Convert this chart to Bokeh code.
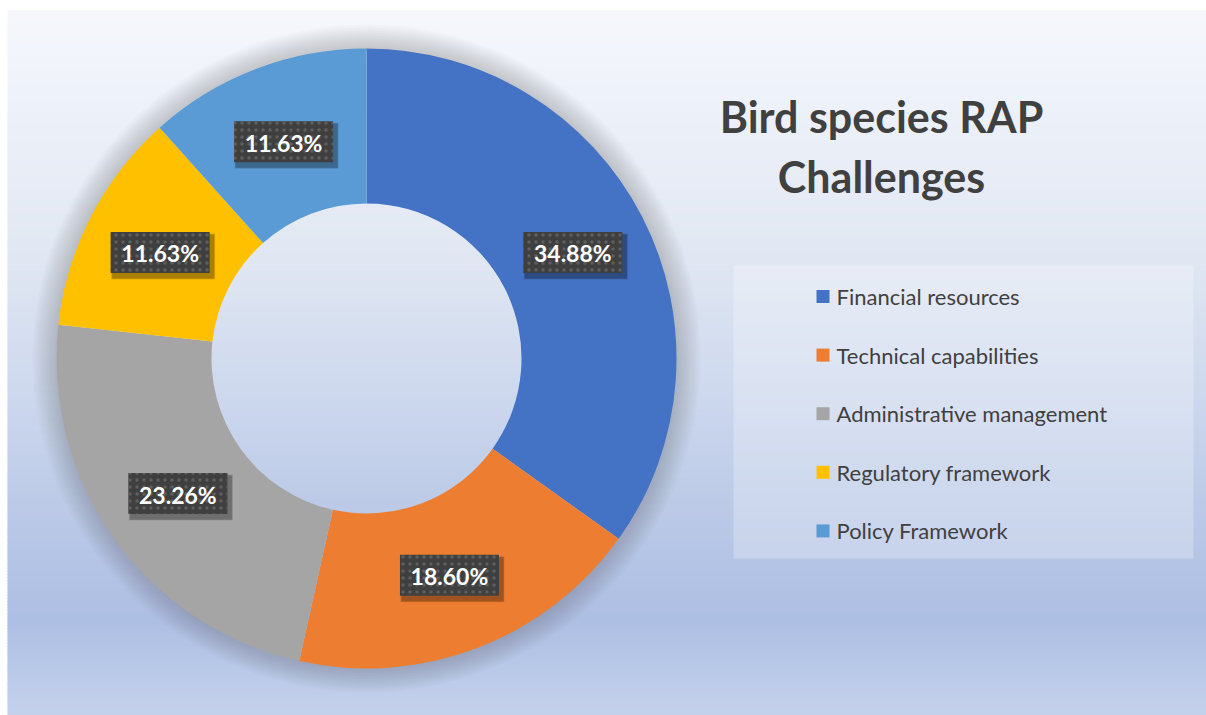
import numpy as np
from bokeh.plotting import figure
from bokeh.models import Range1d, ColumnDataSource
from bokeh.core.properties import value
from bokeh.embed import file_html
from bokeh.resources import INLINE

# ---- data ----
categories = ["Financial resources", "Technical capabilities", "Administrative management",
              "Regulatory framework", "Policy Framework"]
shares = [34.88, 18.60, 23.26, 11.63, 11.63]
colors = ["#4472C4", "#ED7D31", "#A5A5A5", "#FFC000", "#5B9BD5"]
title_lines = ["Bird species RAP", "Challenges"]

W, H = 1206, 715
p = figure(width=W, height=H, output_backend="svg", toolbar_location=None,
           x_range=Range1d(0, W), y_range=Range1d(0, H), min_border=0)
p.axis.visible = False
p.grid.visible = False
p.outline_line_color = None
p.background_fill_color = None
p.border_fill_color = None

def sy(y_screen):
    return H - y_screen

# ---- background gradient ----
stops_y = [10, 100, 250, 400, 500, 620, 715]
stops_c = [(246, 248, 252), (238, 242, 250), (226, 232, 243), (205, 216, 238),
           (189, 203, 232), (174, 191, 228), (196, 210, 236)]
n = 235
edges = np.linspace(10, 715, n + 1)
mids = (edges[:-1] + edges[1:]) / 2
cols = []
for m in mids:
    r = np.interp(m, stops_y, [c[0] for c in stops_c])
    g = np.interp(m, stops_y, [c[1] for c in stops_c])
    b = np.interp(m, stops_y, [c[2] for c in stops_c])
    cols.append("#%02x%02x%02x" % (int(r), int(g), int(b)))
p.quad(left=7, right=W, top=[sy(e) + 0.5 for e in edges[:-1]], bottom=[sy(e) - 0.5 for e in edges[1:]],
       fill_color=cols, line_color=None)

# ---- donut ----
cx, cy = 366, sy(358)
r_out, r_in = 310, 155

# soft shadow
for k in range(12):
    p.annulus(x=cx, y=cy, inner_radius=r_out - 2, outer_radius=r_out + 2 + k * 2,
              fill_color="#606060", fill_alpha=0.022, line_color=None)

total = sum(shares)
fr = np.array(shares) / total
cum = np.concatenate([[0], np.cumsum(fr)])
start = np.pi / 2 - cum[:-1] * 2 * np.pi
end = np.pi / 2 - cum[1:] * 2 * np.pi
src = ColumnDataSource(dict(start=start, end=end, color=colors))
p.annular_wedge(x=cx, y=cy, inner_radius=r_in, outer_radius=r_out, start_angle="start",
                end_angle="end", direction="clock", fill_color="color", line_color=None, source=src)

# ---- data labels ----
mid = np.pi / 2 - (cum[:-1] + cum[1:]) / 2 * 2 * np.pi
r_lab = 232
lx = cx + r_lab * np.cos(mid)
ly = cy + r_lab * np.sin(mid)
labels = ["%.2f%%" % s for s in shares]
bw, bh = 99, 41
for d, a in [(5, 0.10), (4, 0.12), (3, 0.15)]:
    p.rect(x=lx + 3, y=ly - 4, width=bw + d, height=bh + d, fill_color="#000000",
           fill_alpha=a, line_color=None)
p.rect(x=lx, y=ly, width=bw, height=bh, fill_color="#3f3f3f", line_color=None,
       hatch_pattern="dot", hatch_color="#5e5e5e", hatch_scale=7, hatch_weight=1)
p.text(x=lx, y=ly - 1, text=labels, text_align="center", text_baseline="middle",
       text_font=value("Lato"), text_font_style="bold", text_font_size="23px",
       text_color="#ffffff")

# ---- title ----
p.text(x=[881, 881], y=[sy(116), sy(176)], text=title_lines, text_align="center",
       text_baseline="middle", text_font=value("Lato"), text_font_style="bold",
       text_font_size="43px", text_color="#404040")

# ---- legend ----
p.quad(left=733, right=1193, top=sy(265), bottom=sy(558), fill_color="#ffffff",
       fill_alpha=0.25, line_color=None)
ys = [sy(296 + i * 58.6) for i in range(len(categories))]
p.scatter(x=[822.5] * len(categories), y=ys, marker="square", size=13, fill_color=colors,
          line_color=None)
p.text(x=[836] * len(categories), y=ys, text=categories, text_align="left",
       text_baseline="middle", text_font=value("Lato"), text_font_size="22px",
       text_color="#404040")

open("out.html", "w").write(file_html(p, INLINE))
